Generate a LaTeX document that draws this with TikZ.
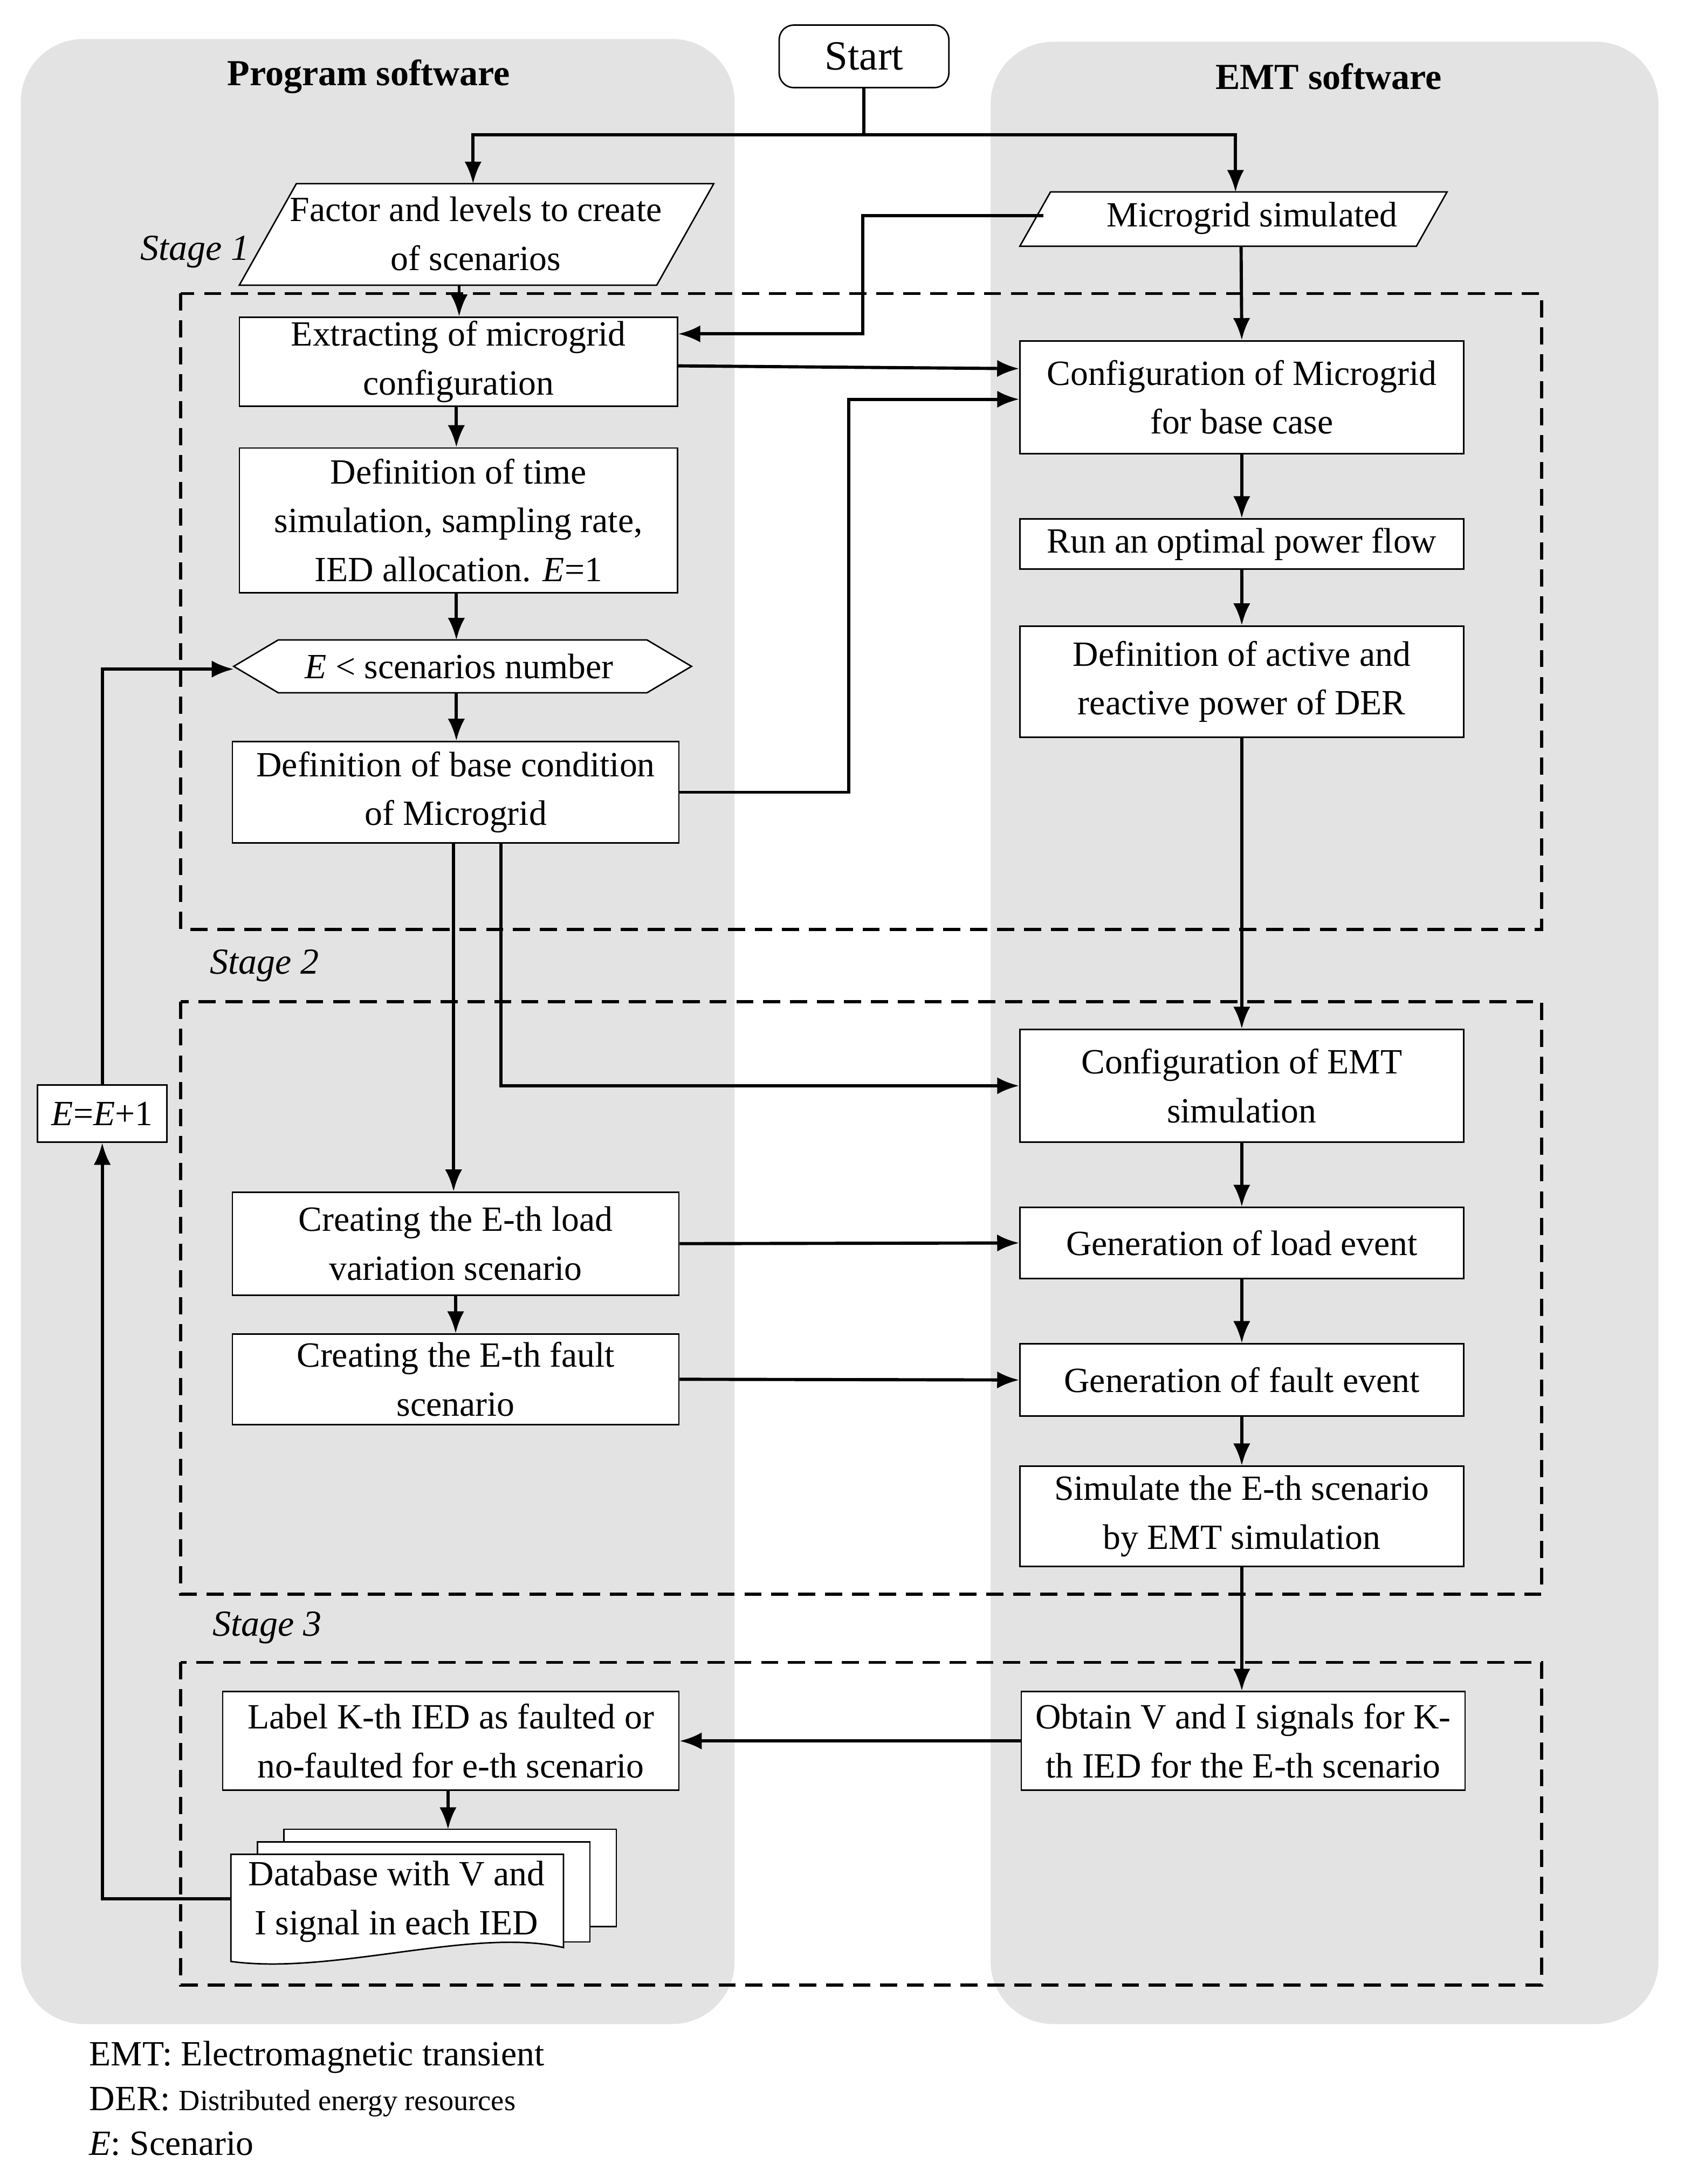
\documentclass[tikz,border=0pt]{standalone}
\usepackage{fontspec}
\setmainfont{Liberation Serif}
\usetikzlibrary{arrows.meta}
\tikzset{
  box/.style={draw, fill=white, line width=0.6pt, align=center, inner sep=1pt},
  arr/.style={line width=1.3pt, -{Latex[length=9pt,width=7pt]}},
  line/.style={line width=1.3pt},
  stage/.style={draw, line width=1.3pt, dash pattern=on 7pt off 4pt},
  panel/.style={fill=black!11, rounded corners=0.9cm},
  lbl/.style={font=\fontsize{15}{20}\selectfont\itshape}
}
\begin{document}
\begin{tikzpicture}[x=0.02cm, y=-0.02cm, font=\fontsize{14.5}{20}\selectfont]
\useasboundingbox (0,0) rectangle (1210,1570);
% panels
\fill[panel] (15,28) rectangle (528,1455);
\fill[panel] (712,30) rectangle (1192,1455);
\node[font=\fontsize{15}{20}\selectfont\bfseries] (ps) at (265,55) {Program software};
\node[font=\fontsize{15}{20}\selectfont\bfseries] (es) at (955,55) {EMT software};
% stages
\draw[stage] (130,211) rectangle (1108,668);
\draw[stage] (130,720) rectangle (1108,1146);
\draw[stage] (130,1195) rectangle (1108,1427);
\node[lbl] (s1) at (140,181) {Stage 1};
\node[lbl] (s2) at (190,694) {Stage 2};
\node[lbl] (s3) at (192,1170) {Stage 3};
% start and inputs
\node[box, rounded corners=6pt, minimum width=2.44cm, minimum height=0.9cm, font=\fontsize{17}{20}\selectfont] (start) at (621,40.5) {Start};
\draw[fill=white, line width=0.6pt] (213,132) -- (513,132) -- (472,205) -- (172,205) -- cycle;
\node[align=center] (fac) at (342,168) {Factor and levels to create\\of scenarios};
\draw[fill=white, line width=0.6pt] (755,138) -- (1040,138) -- (1018,177) -- (733,177) -- cycle;
\node (mic) at (900,157) {Microgrid simulated};
% left column
\node[box, minimum width=6.3cm, minimum height=1.28cm] (ext) at (329.5,260) {Extracting of microgrid\\configuration};
\node[box, minimum width=6.3cm, minimum height=2.08cm] (tim) at (329.5,374) {Definition of time\\simulation, sampling rate,\\IED allocation. \textit{E}=1};
\draw[fill=white, line width=0.6pt] (168,479) -- (200,460) -- (465,460) -- (497,479) -- (465,498) -- (200,498) -- cycle;
\node (hex) at (330,479) {\textit{E} < scenarios number};
\node[box, minimum width=6.42cm, minimum height=1.46cm] (base) at (327.5,569.5) {Definition of base condition\\of Microgrid};
\node[box, minimum width=6.42cm, minimum height=1.48cm] (load) at (327.5,894) {Creating the E-th load\\variation scenario};
\node[box, minimum width=6.42cm, minimum height=1.3cm] (flt) at (327.5,991.5) {Creating the E-th fault\\scenario};
\node[box, minimum width=6.56cm, minimum height=1.42cm] (lab) at (324,1251.5) {Label K-th IED as faulted or\\no-faulted for e-th scenario};
\node[box, minimum width=1.86cm, minimum height=0.82cm] (inc) at (73.5,800.5) {\textit{E}=\textit{E}+1};
% database
\draw[fill=white, line width=0.6pt] (204,1315) rectangle (443,1385);
\draw[fill=white, line width=0.6pt] (185,1324) rectangle (424,1396);
\draw[fill=white, line width=0.6pt] (166,1333) -- (405,1333) -- (405,1400) .. controls (340,1385) and (240,1420) .. (166,1410) -- cycle;
\node[align=center] (db) at (285,1367) {Database with V and\\I signal in each IED};
% right column
\node[box, minimum width=6.38cm, minimum height=1.62cm] (cfg) at (892.5,285.5) {Configuration of Microgrid\\for base case};
\node[box, minimum width=6.38cm, minimum height=0.72cm] (opf) at (892.5,391) {Run an optimal power flow};
\node[box, minimum width=6.38cm, minimum height=1.6cm] (der) at (892.5,490) {Definition of active and\\reactive power of DER};
\node[box, minimum width=6.38cm, minimum height=1.62cm] (emt) at (892.5,780.5) {Configuration of EMT\\simulation};
\node[box, minimum width=6.38cm, minimum height=1.02cm] (lev) at (892.5,893.5) {Generation of load event};
\node[box, minimum width=6.38cm, minimum height=1.04cm] (fev) at (892.5,992) {Generation of fault event};
\node[box, minimum width=6.38cm, minimum height=1.44cm] (sim) at (892.5,1090) {Simulate the E-th scenario\\by EMT simulation};
\node[box, minimum width=6.38cm, minimum height=1.42cm] (obt) at (893.5,1251.5) {Obtain V and I signals for K-\\th IED for the E-th scenario};
% connectors
\coordinate (j1) at (621,97);
\draw[line] (start.south) -- (j1);
\draw[arr] (j1) -| (340,132);
\draw[arr] (j1) -| (888,138);
\draw[arr] (330,205) -- (ext.north -| 330,0);
\draw[arr] (750,155) -| (620,240) -- (ext.east |- 0,240);
\draw[arr] (892,177) -- (cfg.north);
\draw[arr] (ext.east |- 0,263) -- (cfg.west |- 0,265);
\draw[arr] (328,292) -- (tim.north -| 328,0);
\draw[arr] (328,426) -- (328,460);
\draw[arr] (328,498) -- (base.north -| 328,0);
\draw[arr] (base.east) -| (610,287) -- (cfg.west |- 0,287);
\draw[arr] (cfg.south) -- (opf.north);
\draw[arr] (opf.south) -- (der.north);
\draw[arr] (der.south) -- (emt.north);
\draw[arr] (base.south -| 326,0) -- (load.north -| 326,0);
\draw[arr] (base.south -| 360,0) |- (emt.west);
\draw[arr] (emt.south) -- (lev.north);
\draw[arr] (load.east) -- (lev.west);
\draw[arr] (load.south) -- (flt.north);
\draw[arr] (flt.east) -- (fev.west);
\draw[arr] (lev.south) -- (fev.north);
\draw[arr] (fev.south) -- (sim.north);
\draw[arr] (sim.south) -- (obt.north -| sim.south);
\draw[arr] (obt.west) -- (lab.east);
\draw[arr] (lab.south -| 322,0) -- (322,1315);
\draw[arr] (166,1365) -| (inc.south);
\draw[arr] (inc.north) |- (168,481);
% legend
\node[anchor=west] (l1) at (58,1479) {EMT: Electromagnetic transient};
\node[anchor=west] (l2) at (58,1511) {DER: {\fontsize{12}{20}\selectfont Distributed energy resources}};
\node[anchor=west] (l3) at (58,1541) {\textit{E}: Scenario};
\end{tikzpicture}
\end{document}
